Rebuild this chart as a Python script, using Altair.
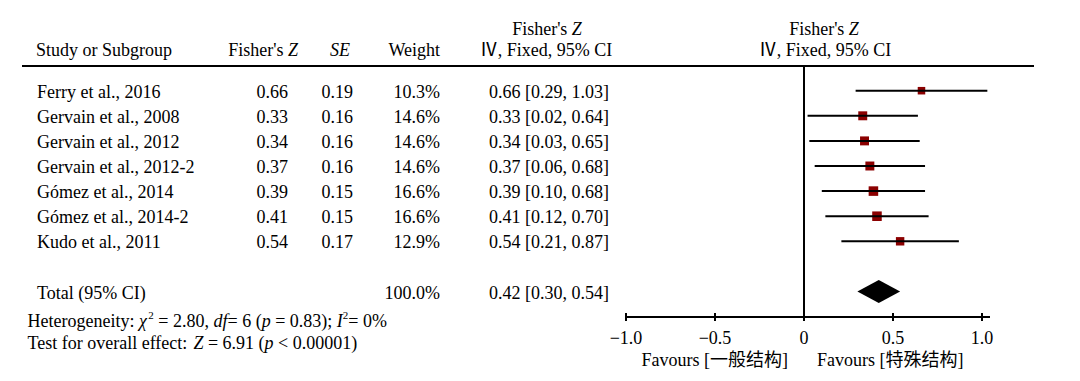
import altair as alt
import pandas as pd

# ---------------- data ----------------
studies = ["Ferry et al., 2016", "Gervain et al., 2008", "Gervain et al., 2012",
           "Gervain et al., 2012-2", "Gómez et al., 2014", "Gómez et al., 2014-2",
           "Kudo et al., 2011"]
fisher_z = [0.66, 0.33, 0.34, 0.37, 0.39, 0.41, 0.54]
se = [0.19, 0.16, 0.16, 0.16, 0.15, 0.15, 0.17]
weight = [10.3, 14.6, 14.6, 14.6, 16.6, 16.6, 12.9]
ci_low = [0.29, 0.02, 0.03, 0.06, 0.10, 0.12, 0.21]
ci_high = [1.03, 0.64, 0.65, 0.68, 0.68, 0.70, 0.87]
total_label = "Total (95% CI)"
total_est = 0.42
total_low = 0.30
total_high = 0.54
total_weight = 100.0
tick_values = [-1.0, -0.5, 0.0, 0.5, 1.0]
tick_labels = ["−1.0", "−0.5", "0", "0.5", "1.0"]
favours_left = "Favours [一般结构]"
favours_right = "Favours [特殊结构]"

FONT = "Liberation Serif, Noto Sans CJK SC, serif"
FS = 18
DY = 2
SQ_COLOR = "#8b0000"

n = len(studies)
rows = list(range(n))
total_row = n + 1

df = pd.DataFrame({
    "row": rows,
    "study": studies,
    "z": fisher_z,
    "se": se,
    "w": weight,
    "lo": ci_low,
    "hi": ci_high,
})
df["z_t"] = [f"{v:.2f}" for v in fisher_z]
df["se_t"] = [f"{v:.2f}" for v in se]
df["w_t"] = [f"{v:.1f}%" for v in weight]
df["ci_t"] = [f"{a:.2f} [{b:.2f}, {c:.2f}]" for a, b, c in zip(fisher_z, ci_low, ci_high)]

tot = pd.DataFrame({
    "row": [total_row],
    "label": [total_label],
    "w_t": [f"{total_weight:.1f}%"],
    "ci_t": [f"{total_est:.2f} [{total_low:.2f}, {total_high:.2f}]"],
})

dia = pd.DataFrame({
    "x": [total_low, total_est, total_high],
    "h": [0.0, 1.0, 0.0],
    "row": [total_row] * 3,
})

ticks = pd.DataFrame({"v": tick_values, "lab": tick_labels})
axis_df = pd.DataFrame({"a": [tick_values[0]], "b": [tick_values[-1]]})
zero_df = pd.DataFrame({"x0": [0.0]})
fav_df = pd.DataFrame({"x0": [0.0, 0.0], "t": [favours_left, favours_right]})

xs = alt.Scale(domain=[-1, 1], range=[618, 974])
ys = alt.Scale(domain=[0, total_row], range=[82.7, 283.5])

# ---------------- text width helper (Times metrics) ----------------
W_R = {' ': 250, "'": 180, '(': 333, ')': 333, ',': 250, '-': 333, '.': 250,
       ':': 278, ';': 278, '<': 564, '=': 564, '%': 833, '[': 333, ']': 333}
for d in "0123456789":
    W_R[d] = 500
W_R.update(dict(zip("ABCDEFGHIJKLMNOPQRSTUVWXYZ",
                    [722, 667, 667, 722, 611, 556, 722, 722, 333, 389, 722, 611, 889,
                     722, 722, 556, 722, 667, 556, 611, 722, 722, 944, 722, 722, 611])))
W_R.update(dict(zip("abcdefghijklmnopqrstuvwxyz",
                    [444, 500, 444, 500, 444, 333, 500, 500, 278, 278, 500, 278, 778,
                     500, 500, 500, 500, 333, 389, 278, 500, 500, 722, 500, 500, 444])))
W_I = {'Z': 556, 'S': 500, 'E': 611, 'd': 500, 'f': 278, 'p': 500, 'I': 333, 'χ': 520}
SUP = 11


def tw(s, kind):
    if kind == "s":
        return sum(W_R.get(c, 500) for c in s) * SUP / 1000
    tab = W_I if kind == "i" else W_R
    return sum(tab.get(c, W_R.get(c, 500)) for c in s) * FS / 1000


def one_text(t, x, y, align="left", italic=False, size=FS):
    return alt.Chart(pd.DataFrame({"t": [t]})).mark_text(
        align=align, baseline="middle", font=FONT, fontSize=size, color="black",
        fontStyle="italic" if italic else "normal", dy=DY
    ).encode(x=alt.value(x), y=alt.value(y), text="t:N")


def seg_layers(segs, x0, y, anchor="left"):
    total = sum(tw(t, k) for t, k in segs)
    if anchor == "right":
        x = x0 - total
    elif anchor == "center":
        x = x0 - total / 2
    else:
        x = x0
    out = []
    for t, k in segs:
        body = t.strip()
        lead = len(t) - len(t.lstrip())
        xr = x + tw(" " * lead, k)
        if body:
            if k == "s":
                out.append(one_text(body, xr, y - 6, size=SUP))
            else:
                out.append(one_text(body, xr, y, italic=(k == "i")))
        x += tw(t, k)
    return out


layers = []

# ---------------- header ----------------
H1, H2 = 20, 41
layers.append(one_text("Study or Subgroup", 28, H2))
layers += seg_layers([("Fisher's ", "r"), ("Z", "i")], 290, H2, "right")
layers.append(one_text("SE", 342, H2, "right", italic=True))
layers.append(one_text("Weight", 432, H2, "right"))
layers += seg_layers([("Fisher's ", "r"), ("Z", "i")], 539, H1, "center")
layers.append(one_text("Ⅳ, Fixed, 95% CI", 538, H2, "center"))
layers += seg_layers([("Fisher's ", "r"), ("Z", "i")], 816, H1, "center")
layers.append(one_text("Ⅳ, Fixed, 95% CI", 817, H2, "center"))

layers.append(alt.Chart(pd.DataFrame({"a": [0]})).mark_rule(color="black", strokeWidth=2).encode(
    x=alt.value(14), x2=alt.value(1026), y=alt.value(58)))

# ---------------- table columns ----------------
base = alt.Chart(df)
Y = alt.Y("row:Q", scale=ys, axis=None)


def col(src, field, x, align):
    return src.mark_text(align=align, baseline="middle", font=FONT, fontSize=FS,
                         color="black", dy=DY).encode(x=alt.value(x), y=Y, text=f"{field}:N")


layers += [col(base, "study", 29, "left"), col(base, "z_t", 280, "right"),
           col(base, "se_t", 345, "right"), col(base, "w_t", 432, "right"),
           col(base, "ci_t", 601, "right")]

tbase = alt.Chart(tot)
layers += [col(tbase, "label", 29, "left"), col(tbase, "w_t", 432, "right"),
           col(tbase, "ci_t", 601, "right")]

# ---------------- forest plot ----------------
layers.append(alt.Chart(zero_df).mark_rule(color="black", strokeWidth=2).encode(
    x=alt.X("x0:Q", scale=xs, axis=None), y=alt.value(58), y2=alt.value(309)))

layers.append(base.mark_square(filled=True, opacity=1, color=SQ_COLOR).encode(
    x=alt.X("z:Q", scale=xs, axis=None), y=Y,
    size=alt.Size("w:Q", scale=alt.Scale(domain=[0, 20], range=[0, 110]), legend=None)))

layers.append(base.mark_rule(color="black", strokeWidth=2).encode(
    x=alt.X("lo:Q", scale=xs, axis=None), x2="hi:Q", y=Y))

HH = 0.46
layers.append(alt.Chart(dia).transform_calculate(
    top=f"datum.row - {HH} * datum.h", bot=f"datum.row + {HH} * datum.h"
).mark_area(color="black", opacity=1).encode(
    x=alt.X("x:Q", scale=xs, axis=None),
    y=alt.Y("top:Q", scale=ys, axis=None), y2="bot:Q"))

# ---------------- axis ----------------
layers.append(alt.Chart(axis_df).mark_rule(color="black", strokeWidth=2, x2Offset=8).encode(
    x=alt.X("a:Q", scale=xs, axis=None), x2="b:Q", y=alt.value(309)))
tb = alt.Chart(ticks)
layers.append(tb.mark_rule(color="black", strokeWidth=2).encode(
    x=alt.X("v:Q", scale=xs, axis=None), y=alt.value(305), y2=alt.value(313)))
layers.append(tb.mark_text(align="center", baseline="middle", font=FONT, fontSize=FS,
                           color="black", dy=DY).encode(
    x=alt.X("v:Q", scale=xs, axis=None), y=alt.value(329), text="lab:N"))

fb = alt.Chart(fav_df)
layers.append(fb.transform_filter(alt.datum.t == favours_left).mark_text(
    align="right", baseline="middle", font=FONT, fontSize=FS, color="black", dx=-16, dy=DY
).encode(x=alt.X("x0:Q", scale=xs, axis=None), y=alt.value(351), text="t:N"))
layers.append(fb.transform_filter(alt.datum.t == favours_right).mark_text(
    align="left", baseline="middle", font=FONT, fontSize=FS, color="black", dx=13, dy=DY
).encode(x=alt.X("x0:Q", scale=xs, axis=None), y=alt.value(351), text="t:N"))

# ---------------- footnotes ----------------
layers += seg_layers([("Heterogeneity: ", "r"), ("χ", "i"), ("2", "s"), (" = 2.80, ", "r"),
                      ("df", "i"), ("= 6 (", "r"), ("p", "i"), (" = 0.83); ", "r"),
                      ("I", "i"), ("2", "s"), ("= 0%", "r")], 19.5, 312)
layers += seg_layers([("Test for overall effect: ", "r"), ("Z", "i"), (" = 6.91 (", "r"),
                      ("p", "i"), (" < 0.00001)", "r")], 19.5, 334)

chart = alt.layer(*layers).properties(
    width=1064, height=365,
    autosize=alt.AutoSizeParams(type="none"),
    padding=0,
    background="white",
).configure_view(stroke=None)

chart.save("out.html", embed_options={"renderer": "svg", "actions": False})
